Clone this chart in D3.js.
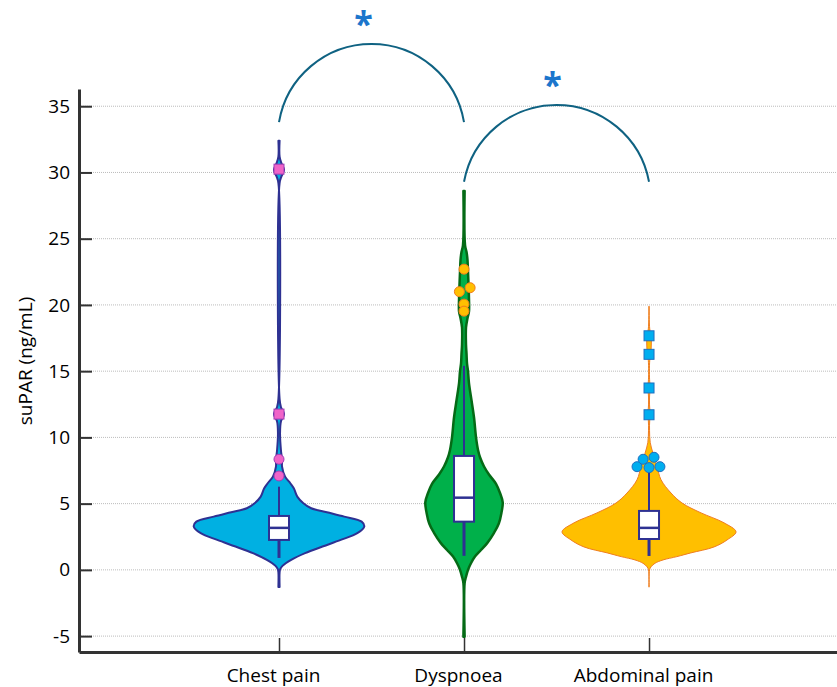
<!DOCTYPE html>
<html>
<head>
<meta charset="utf-8">
<script src="https://cdn.jsdelivr.net/npm/d3@7"></script>
<style>
  body { margin: 0; background: #fff; }
  svg { display: block; }
</style>
</head>
<body>
<svg id="chart"></svg>
<script>
// Categories and axis ticks
const categories = ["Chest pain", "Dyspnoea", "Abdominal pain"];
const yTicks = [-5, 0, 5, 10, 15, 20, 25, 30, 35];

// Violin outlines: [suPAR value, relative density]
const chestDensity = [
  [-1.3, 0.007], [-0.2, 0.007], [0.05, 0.014], [0.3, 0.04], [0.75, 0.14], [1.26, 0.3],
  [1.76, 0.5], [2.26, 0.71], [2.77, 0.9], [3.27, 0.98], [3.64, 0.95], [4.02, 0.75],
  [4.35, 0.55], [4.65, 0.37], [5.03, 0.28], [5.53, 0.21], [6.16, 0.17], [6.54, 0.13],
  [7.04, 0.07], [7.79, 0.035], [8.3, 0.035], [9.05, 0.022], [10.3, 0.012], [11.2, 0.022],
  [11.76, 0.058], [12.3, 0.022], [12.9, 0.007], [29.2, 0.007], [29.7, 0.028], [30.2, 0.058],
  [30.7, 0.028], [31.2, 0.007], [32.4, 0.007]
];
const dyspDensity = [
  [-5.05, 0.007], [-1.0, 0.007], [-0.6, 0.02], [0, 0.046], [0.5, 0.08], [1.0, 0.126],
  [1.5, 0.195], [2.0, 0.264], [2.8, 0.345], [3.5, 0.4], [4.3, 0.43], [5.1, 0.445],
  [5.8, 0.414], [6.5, 0.368], [7.2, 0.287], [7.8, 0.23], [8.5, 0.184], [9.05, 0.161],
  [10, 0.138], [11.5, 0.115], [12.8, 0.086], [14.1, 0.057], [15.0, 0.046], [15.6, 0.034],
  [16.3, 0.029], [17, 0.023], [18.3, 0.023], [19.0, 0.04], [19.5, 0.057], [20.5, 0.057],
  [21.5, 0.052], [22.5, 0.046], [23.4, 0.04], [24.0, 0.029], [24.5, 0.012], [28.6, 0.007]
];
const abdDensity = [
  [-1.3, 0.002], [0, 0.006], [0.23, 0.023], [0.5, 0.069], [0.75, 0.161], [1.0, 0.32],
  [1.28, 0.48], [1.73, 0.747], [2.26, 0.897], [2.87, 1.0], [3.55, 0.862], [4.3, 0.598],
  [5.05, 0.379], [5.8, 0.253], [6.8, 0.138], [7.8, 0.092], [8.8, 0.046], [9.6, 0.014],
  [10.5, 0.006], [11.3, 0.008], [11.76, 0.02], [12.2, 0.008], [13.3, 0.008], [13.75, 0.02],
  [14.2, 0.008], [15.8, 0.008], [16.3, 0.02], [17.65, 0.025], [18.2, 0.008], [19.9, 0.002]
];

// Box plot statistics (one entry per category)
const q1 = [2.26, 3.64, 2.33];
const medians = [3.17, 5.45, 3.17];
const q3 = [4.07, 8.6, 4.45];
const whiskerLow = [0.9, 1.06, 1.05];
const whiskerHigh = [6.28, 15.4, 7.8];

// Outliers
const chestCircles = [8.35, 7.09];
const chestSquares = [11.76, 30.25];
const dyspCircles = [22.7, 21.3, 21.0, 20.06, 19.53];
const dyspJitter = [0, 0.033, -0.025, 0, 0];
const abdCircles = [7.79, 8.35, 7.72, 8.5, 7.79];
const abdJitter = [-0.065, -0.032, 0, 0.027, 0.059];
const abdSquares = [17.67, 16.27, 13.73, 11.71];

// Significance brackets: [from, to, base value, top value]
const brackets = [[0, 1, 33.8, 39.7], [1, 2, 29.3, 35.1]];
const bracketLabels = ["*", "*"];

// Set dimensions
const width = 837;
const height = 687;
const plotLeft = 79, plotRight = 837, plotTop = 89, plotBottom = 652;

const svg = d3.select("#chart")
  .attr("width", width)
  .attr("height", height);

// Scales
const x = d3.scaleLinear().domain([-0.081, 4.016]).range([plotLeft, plotRight]);
const y = d3.scaleLinear().domain([-6.2, 36.3]).range([plotBottom, plotTop]);
const w = d3.scaleLinear().domain([0, 1]).range([0, 87]);

// Gridlines
svg.append("g")
  .selectAll("line")
  .data(yTicks)
  .enter()
  .append("line")
  .attr("x1", plotLeft)
  .attr("x2", plotRight)
  .attr("y1", d => y(d))
  .attr("y2", d => y(d))
  .attr("stroke", "#bcbcbc")
  .attr("stroke-dasharray", "1,1");

// Violins
const violins = [
  { dens: chestDensity, fill: "#00b0e2", stroke: "#2e3192", sw: 2 },
  { dens: dyspDensity, fill: "#00b04a", stroke: "#056a16", sw: 2.5 },
  { dens: abdDensity, fill: "#ffbf00", stroke: "#ef7d22", sw: 1 }
];

violins.forEach((v, i) => {
  const cx = x(i + 1);
  const area = d3.area()
    .y(d => y(d[0]))
    .x0(d => cx - w(d[1]))
    .x1(d => cx + w(d[1]))
    .curve(d3.curveCatmullRom.alpha(0.5));
  svg.append("path")
    .datum(v.dens)
    .attr("d", area)
    .attr("fill", v.fill)
    .attr("stroke", v.stroke)
    .attr("stroke-width", v.sw)
    .attr("stroke-linejoin", "round");
});

// Whiskers and boxes
categories.forEach((c, i) => {
  const cx = x(i + 1);
  svg.append("line")
    .attr("x1", cx).attr("x2", cx)
    .attr("y1", y(q3[i])).attr("y2", y(whiskerHigh[i]))
    .attr("stroke", "#2e3192").attr("stroke-width", 2);
  svg.append("line")
    .attr("x1", cx).attr("x2", cx)
    .attr("y1", y(q1[i])).attr("y2", y(whiskerLow[i]))
    .attr("stroke", "#2e3192").attr("stroke-width", 3);
  svg.append("rect")
    .attr("x", cx - 10)
    .attr("y", y(q3[i]))
    .attr("width", 20)
    .attr("height", y(q1[i]) - y(q3[i]))
    .attr("fill", "white")
    .attr("stroke", "#2e3192")
    .attr("stroke-width", 2);
  svg.append("line")
    .attr("x1", cx - 10).attr("x2", cx + 10)
    .attr("y1", y(medians[i])).attr("y2", y(medians[i]))
    .attr("stroke", "#2e3192").attr("stroke-width", 2.5);
});

// Outlier markers
function circles(values, jitter, cat, fill, stroke) {
  svg.append("g")
    .selectAll("circle")
    .data(values)
    .enter()
    .append("circle")
    .attr("cx", (d, k) => x(cat + (jitter ? jitter[k] : 0)))
    .attr("cy", d => y(d))
    .attr("r", 5)
    .attr("fill", fill)
    .attr("stroke", stroke)
    .attr("stroke-width", 1);
}
function squares(values, cat, fill, stroke) {
  svg.append("g")
    .selectAll("rect")
    .data(values)
    .enter()
    .append("rect")
    .attr("x", x(cat) - 5)
    .attr("y", d => y(d) - 5)
    .attr("width", 10)
    .attr("height", 10)
    .attr("fill", fill)
    .attr("stroke", stroke)
    .attr("stroke-width", 1);
}
circles(chestCircles, null, 1, "#f064c8", "#a03cb4");
squares(chestSquares, 1, "#f064c8", "#a03cb4");
circles(dyspCircles, dyspJitter, 2, "#ffbf00", "#f07c1c");
circles(abdCircles, abdJitter, 3, "#00aeef", "#1f6fc0");
squares(abdSquares, 3, "#00aeef", "#1f6fc0");

// Axes
const yAxis = svg.append("g")
  .attr("transform", `translate(${plotLeft},0)`)
  .call(d3.axisLeft(y).tickValues(yTicks).tickFormat(d => String(d))
    .tickSize(-13).tickSizeOuter(0).tickPadding(9));
const xAxis = svg.append("g")
  .attr("transform", `translate(0,${plotBottom})`)
  .call(d3.axisBottom(x).tickValues([1, 2, 3]).tickFormat(d => categories[d - 1])
    .tickSize(-14).tickSizeOuter(0).tickPadding(17));

yAxis.select(".domain").attr("stroke", "#333").attr("stroke-width", 3);
xAxis.select(".domain").attr("stroke", "#333").attr("stroke-width", 3);
yAxis.selectAll(".tick line").attr("stroke", "#333").attr("stroke-width", 2);
xAxis.selectAll(".tick line").attr("stroke", "#333").attr("stroke-width", 1.5);
svg.selectAll(".tick text")
  .style("font-family", "Open Sans")
  .style("font-size", "19px")
  .attr("fill", "#000");
xAxis.selectAll(".tick text").attr("dx", -6);

// Y axis title
svg.append("text")
  .attr("transform", "translate(25,361) rotate(-90)")
  .attr("text-anchor", "middle")
  .attr("dominant-baseline", "central")
  .style("font-family", "Open Sans")
  .style("font-size", "19px")
  .text("suPAR (ng/mL)");

// Significance brackets
const starShift = [-8, -4];
brackets.forEach((b, i) => {
  const x1 = x(b[0] + 1), x2 = x(b[1] + 1);
  const yb = y(b[2]), yt = y(b[3]);
  const c = (x2 - x1) / 2, s = yb - yt;
  const r = (c * c + s * s) / (2 * s);
  svg.append("path")
    .attr("d", `M${x1},${yb} A${r},${r} 0 0 1 ${x2},${yb}`)
    .attr("fill", "none")
    .attr("stroke", "#0f6282")
    .attr("stroke-width", 2);
  svg.append("text")
    .attr("x", (x1 + x2) / 2 + starShift[i])
    .attr("y", yt - 8)
    .attr("text-anchor", "middle")
    .style("font-family", "Open Sans")
    .style("font-size", "34px")
    .style("font-weight", "bold")
    .attr("fill", "#1c76cc")
    .text(bracketLabels[i]);
});
</script>
</body>
</html>
